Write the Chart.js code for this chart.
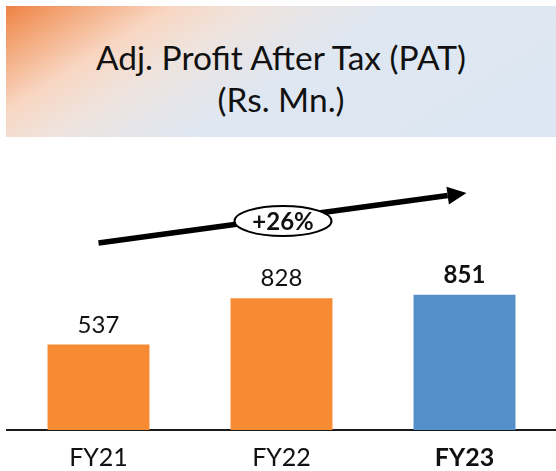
<!DOCTYPE html>
<html>
<head>
<meta charset="utf-8">
<script src="https://cdn.jsdelivr.net/npm/chart.js@4/dist/chart.umd.min.js"></script>
<style>
  html, body { margin: 0; padding: 0; background: #fff; }
  body { width: 556px; height: 471px; position: relative; overflow: hidden; font-family: Lato, "Open Sans", sans-serif; }
  #banner {
    position: absolute; left: 6px; top: 6px; width: 550px; height: 131px;
    background: linear-gradient(148deg, #ee8244 0%, #f3a677 9%, #f8d6c2 22%, #efe3dd 33%, #e6e5e8 42%, #dfe7f1 52%, #dce7f3 100%);
  }
  .ttl { position: absolute; left: 0; width: 100%; text-align: center; font-size: 33.5px; line-height: 42px; color: #111; }
  #t1 { top: 30px; }
  #t2 { top: 72px; }
  /* canvas runs a little past the bottom edge so the axis sits lower */
  #wrap { position: absolute; left: 0; top: 0; width: 556px; height: 485px; }
</style>
</head>
<body>
<div id="banner">
  <div class="ttl" id="t1">Adj. Profit After Tax (PAT)</div>
  <div class="ttl" id="t2">(Rs. Mn.)</div>
</div>
<div id="wrap"><canvas id="patChart"></canvas></div>
<script>
const years = ['FY21', 'FY22', 'FY23'];
const pat = [537, 828, 851];
const barColors = ['#f68b33', '#f68b33', '#558fc9'];
const boldIdx = 2;

// growth shown on the arrow: CAGR over the period
const cagr = Math.pow(pat[pat.length - 1] / pat[0], 1 / (pat.length - 1)) - 1;
const growthText = '+' + Math.round(cagr * 100) + '%';

const valueLabels = {
  id: 'valueLabels',
  afterDatasetsDraw(chart) {
    const c = chart.ctx;
    const meta = chart.getDatasetMeta(0);
    c.save();
    c.fillStyle = '#111';
    c.textAlign = 'center';
    c.textBaseline = 'alphabetic';
    meta.data.forEach((bar, i) => {
      c.font = (i === boldIdx ? 'bold ' : '') + '24px Lato';
      c.fillText(pat[i], bar.x, bar.y - 12);
    });
    c.restore();
  }
};

const growthArrow = {
  id: 'growthArrow',
  afterDraw(chart) {
    const c = chart.ctx;
    const bars = chart.getDatasetMeta(0).data;
    const top = chart.chartArea.top;
    const x0 = bars[0].x, y0 = top - 28;
    const x1 = bars[2].x + 2, y1 = top - 78;
    const ang = Math.atan2(y1 - y0, x1 - x0);
    const headLen = 19, headHalf = 9;
    const bx = x1 - headLen * Math.cos(ang), by = y1 - headLen * Math.sin(ang);
    c.save();
    c.strokeStyle = '#000';
    c.fillStyle = '#000';
    c.lineWidth = 5.5;
    c.beginPath();
    c.moveTo(x0, y0);
    c.lineTo(bx, by);
    c.stroke();
    c.beginPath();
    c.moveTo(x1, y1);
    c.lineTo(bx + headHalf * Math.sin(ang), by - headHalf * Math.cos(ang));
    c.lineTo(bx - headHalf * Math.sin(ang), by + headHalf * Math.cos(ang));
    c.closePath();
    c.fill();
    // label bubble in the middle of the arrow
    const mx = bars[1].x + 1.5, my = (y0 + y1) / 2 + 3;
    c.beginPath();
    c.ellipse(mx, my, 48.5, 15, 0, 0, Math.PI * 2);
    c.fillStyle = '#fff';
    c.fill();
    c.lineWidth = 2;
    c.stroke();
    c.fillStyle = '#111';
    c.font = 'bold 24px Lato';
    c.textAlign = 'center';
    c.textBaseline = 'middle';
    c.fillText(growthText, mx, my + 1);
    c.restore();
  }
};

new Chart(document.getElementById('patChart'), {
  type: 'bar',
  data: {
    labels: years,
    datasets: [{
      data: pat,
      backgroundColor: barColors,
      borderWidth: 0,
      categoryPercentage: 1,
      barPercentage: 0.557
    }]
  },
  options: {
    responsive: true,
    maintainAspectRatio: false,
    animation: false,
    layout: { padding: { top: 271, left: 7, right: 0, bottom: 0 } },
    plugins: { legend: { display: false }, tooltip: { enabled: false } },
    scales: {
      y: { display: false, min: 0, max: 1000 },
      x: {
        grid: { display: false, drawTicks: false },
        border: { display: true, color: '#1a1a1a', width: 2 },
        ticks: {
          padding: 15,
          color: '#111',
          font: (ctx) => ({ family: 'Lato', size: 25, lineHeight: 1, weight: ctx.index === boldIdx ? 'bold' : 'normal' })
        }
      }
    }
  },
  plugins: [valueLabels, growthArrow]
});
</script>
</body>
</html>
